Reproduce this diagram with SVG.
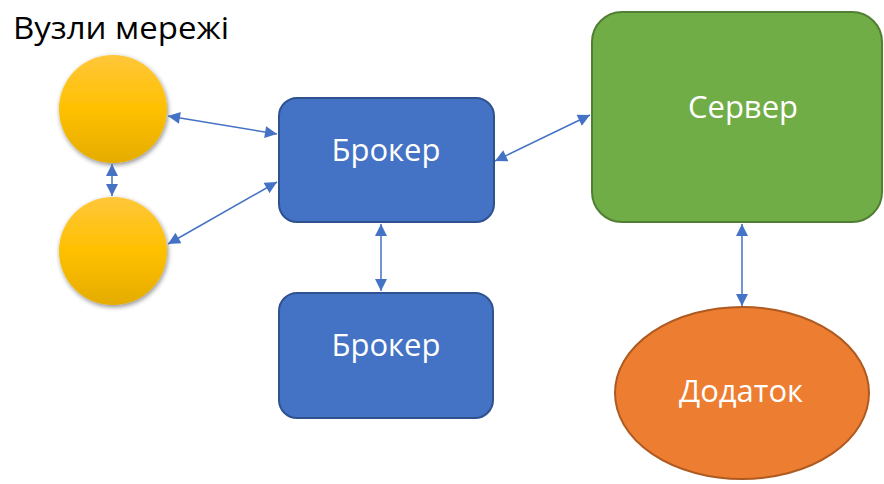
<svg xmlns="http://www.w3.org/2000/svg" width="884" height="484" viewBox="0 0 884 484">
  <defs>
    <linearGradient id="gold" x1="0" y1="0" x2="0" y2="1">
      <stop offset="0" stop-color="#FFC73A"/>
      <stop offset="0.5" stop-color="#FFC000"/>
      <stop offset="1" stop-color="#E5AC00"/>
    </linearGradient>
    <filter id="shadow" x="-20%" y="-20%" width="150%" height="150%">
      <feGaussianBlur in="SourceAlpha" stdDeviation="2.5"/>
      <feOffset dx="1" dy="2" result="b"/>
      <feComponentTransfer><feFuncA type="linear" slope="0.45"/></feComponentTransfer>
      <feMerge><feMergeNode/><feMergeNode in="SourceGraphic"/></feMerge>
    </filter>
    <marker id="tip" viewBox="0 0 10 10" refX="10" refY="5" markerWidth="9" markerHeight="8" orient="auto-start-reverse" markerUnits="strokeWidth">
      <path d="M0,0 L10,5 L0,10 z" fill="#4472C4"/>
    </marker>
  </defs>
  <style>
    .lbl { font-family: "Open Sans", "Liberation Sans", sans-serif; fill: #ffffff; text-anchor: middle; font-size: 31px; }
    .blue { fill: #4472C4; stroke: #2F528F; stroke-width: 2; }
    .link { stroke: #4472C4; stroke-width: 1.5; fill: none; marker-start: url(#tip); marker-end: url(#tip); }
  </style>

  <text x="13" y="39" font-family="'Open Sans', 'Liberation Sans', sans-serif" font-size="31" textLength="216" lengthAdjust="spacingAndGlyphs" fill="#000">Вузли мережі</text>

  <g id="node-a">
    <circle cx="113" cy="109" r="54" fill="url(#gold)" filter="url(#shadow)"/>
  </g>
  <g id="node-b">
    <circle cx="113" cy="251" r="54" fill="url(#gold)" filter="url(#shadow)"/>
  </g>

  <g id="broker-1">
    <rect class="blue" x="279" y="98" width="215" height="124" rx="18"/>
    <text class="lbl" x="386" y="161">Брокер</text>
  </g>
  <g id="broker-2">
    <rect class="blue" x="279" y="293" width="214" height="125" rx="18"/>
    <text class="lbl" x="386" y="356">Брокер</text>
  </g>

  <g id="server">
    <rect x="592" y="12" width="290" height="210" rx="30" fill="#70AD47" stroke="#507E32" stroke-width="2"/>
    <text class="lbl" x="743" y="118">Сервер</text>
  </g>

  <g id="app">
    <ellipse cx="742" cy="393" rx="127" ry="86" fill="#ED7D31" stroke="#AE5A21" stroke-width="2"/>
    <text class="lbl" x="741" y="402">Додаток</text>
  </g>

  <g id="connectors">
    <line class="link" x1="112" y1="164" x2="112" y2="196"/>
    <line class="link" x1="168" y1="116" x2="277" y2="134"/>
    <line class="link" x1="168" y1="244" x2="277" y2="182"/>
    <line class="link" x1="495" y1="161" x2="590" y2="115"/>
    <line class="link" x1="381" y1="224" x2="381" y2="291"/>
    <line class="link" x1="742" y1="224" x2="742" y2="306"/>
  </g>
</svg>
